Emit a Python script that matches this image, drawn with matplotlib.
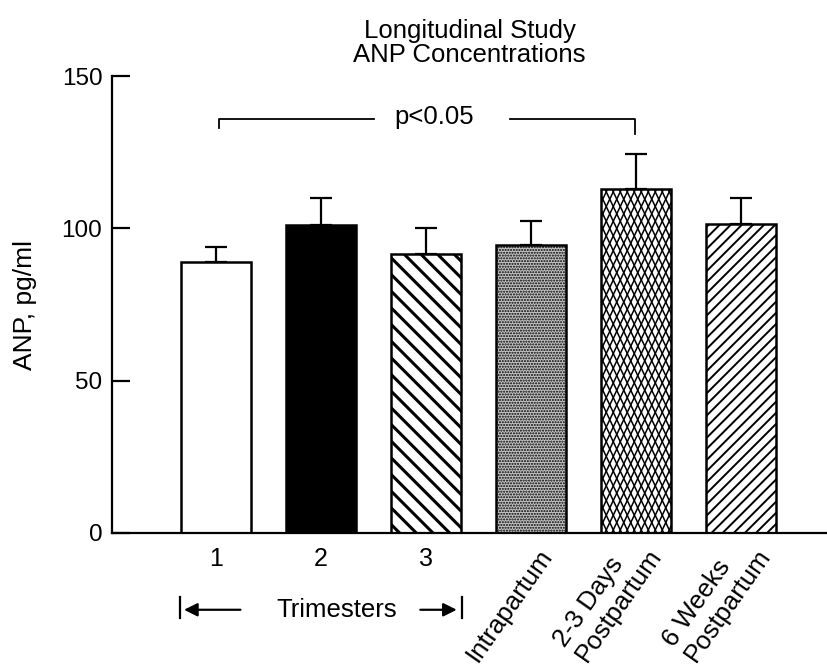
import numpy as np
import matplotlib
matplotlib.use("Agg")
import matplotlib.pyplot as plt
from matplotlib.collections import LineCollection

# ANP concentrations, longitudinal study (mean and upper SE)
groups = ["1", "2", "3", "Intrapartum", "2-3 Days\nPostpartum", "6 Weeks\nPostpartum"]
anp_mean = [89, 101, 91.5, 94.5, 113, 101.5]
anp_err = [5, 9, 8.5, 8, 11.5, 8.5]

faces = ["white", "black", "white", "#c4c4c4", "white", "white"]
hatches = [None, None, "\\\\", "......", None, "///"]

plt.rcParams['font.family'] = ['Liberation Sans', 'DejaVu Sans']

fig = plt.figure(figsize=(8.27, 6.65), dpi=100)
ax = fig.add_axes([0.1354, 0.1985, 0.8646, 0.6872])

x = np.arange(len(groups))
ax.set_xlim(-0.99, 5.82)
ax.set_ylim(0, 150)

bars = []
for i in range(len(groups)):
    if hatches[i] == "\\\\":
        plt.rcParams['hatch.linewidth'] = 2.2
    elif hatches[i] == "///":
        plt.rcParams['hatch.linewidth'] = 1.4
    else:
        plt.rcParams['hatch.linewidth'] = 1.0
    b = ax.bar(x[i], anp_mean[i], width=0.67, color=faces[i], edgecolor="black",
               linewidth=1.8, hatch=hatches[i], zorder=2)[0]
    bars.append(b)

ax.errorbar(x, anp_mean, yerr=[np.zeros(len(x)), anp_err], fmt="none", ecolor="black",
            elinewidth=1.6, capsize=8, capthick=1.6, zorder=1)

# elongated diamond lattice for the 2-3 days bar
b = bars[4]
trans = ax.transData
(px0, py0) = trans.transform((b.get_x(), 0))
(px1, py1) = trans.transform((b.get_x() + b.get_width(), b.get_height()))
step, slope = 7.0, 2.1
segs = []
span = (py1 - py0) / slope
for a in np.arange(px0 - span - step, px1 + step, step):
    for s in (slope, -slope):
        if s > 0:
            p = [(a, py0), (a + span, py1)]
        else:
            p = [(a + span, py0), (a, py1)]
        segs.append(trans.inverted().transform(p))
lc = LineCollection(segs, colors="black", linewidths=1.1, zorder=2.5)
ax.add_collection(lc)
lc.set_clip_path(b)

for side in ["top", "right"]:
    ax.spines[side].set_visible(False)
ax.spines["left"].set_linewidth(1.6)
ax.spines["bottom"].set_linewidth(1.6)

ax.set_yticks([0, 50, 100, 150])
ax.tick_params(axis="y", direction="in", length=13, width=1.6, pad=7, labelsize=17.5)
ax.set_xticks(x[:3], groups[:3])
ax.tick_params(axis="x", length=0, pad=10, labelsize=18)

for i in range(3, len(groups)):
    ax.annotate(groups[i], xy=(x[i], 0), xycoords=("data", "axes fraction"),
                xytext=(26 + 4 * (i - 3), -25), textcoords="offset pixels", rotation=55,
                ha="right", va="bottom", rotation_mode="anchor",
                multialignment="left", fontsize=18.5, linespacing=1.1,
                annotation_clip=False)

# trimesters bracket
ty = -0.168
ax.annotate("", xy=(-0.33, ty), xytext=(0.26, ty), xycoords=("data", "axes fraction"),
            arrowprops=dict(arrowstyle="-|>", color="black", lw=1.6, mutation_scale=20),
            annotation_clip=False)
ax.annotate("", xy=(2.32, ty), xytext=(1.92, ty), xycoords=("data", "axes fraction"),
            arrowprops=dict(arrowstyle="-|>", color="black", lw=1.6, mutation_scale=20),
            annotation_clip=False)
for xv in (-0.34, 2.34):
    ax.plot([xv, xv], [-0.140, -0.186], color="black", lw=1.6,
            transform=ax.get_xaxis_transform(), clip_on=False)
ax.text(1.15, ty, "Trimesters", transform=ax.get_xaxis_transform(),
        ha="center", va="center", fontsize=18.5)

# significance bracket
ax.plot([0.03, 0.03, 1.51], [133, 136, 136], color="black", lw=1.3)
ax.plot([2.80, 3.99, 3.99], [136, 136, 131], color="black", lw=1.3)
ax.text(2.08, 136.5, "p<0.05", ha="center", va="center", fontsize=18.5)

fig.text(0.568, 0.936, "Longitudinal Study\nANP Concentrations", ha="center", va="center",
         fontsize=18.5, linespacing=1.0)
fig.text(25 / 827, 0.542, "ANP, pg/ml", rotation=90, ha="center", va="center", fontsize=19)

fig.savefig("out.png", dpi=100)
